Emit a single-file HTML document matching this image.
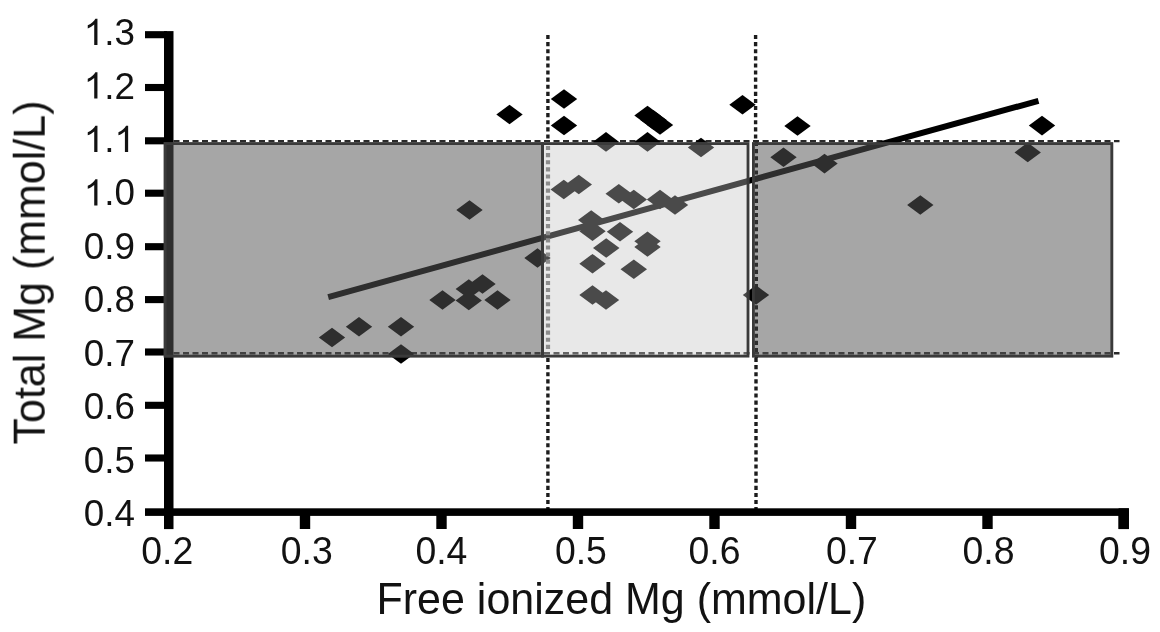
<!DOCTYPE html>
<html><head><meta charset="utf-8"><title>Chart</title>
<style>
html,body{margin:0;padding:0;background:#fff;}
body{width:1160px;height:632px;overflow:hidden;position:relative;font-family:"Liberation Sans",sans-serif;}
svg{position:absolute;left:0;top:0;display:block;filter:blur(0.45px);}
text{font-family:"Liberation Sans",sans-serif;fill:#111;}
.tick{font-size:37.4px;}
.lab{font-size:43px;}
</style></head><body>
<svg width="1160" height="632" viewBox="0 0 1160 632">
<rect width="1160" height="632" fill="#fff"/>
<!-- dotted verticals -->
<g stroke="#1c1c1c" stroke-width="3.4" stroke-dasharray="4.1 3" fill="none">
<line x1="547.9" y1="35" x2="547.9" y2="142"/>
<line x1="547.9" y1="358" x2="547.9" y2="510"/>
<line x1="755.6" y1="35" x2="755.6" y2="142"/>
<line x1="756.3" y1="142" x2="756.3" y2="358" stroke="#000"/>
<line x1="756" y1="358" x2="756" y2="510"/>
</g>
<!-- dashed horizontals -->
<g stroke="#2a2a2a" stroke-width="2.4" stroke-dasharray="6 3.5" fill="none">
<line x1="173.5" y1="141.1" x2="1119.5" y2="141.1"/>
<line x1="173.5" y1="353.3" x2="1119.5" y2="353.3"/>
</g>
<!-- regression line -->
<line x1="328.2" y1="297.15" x2="1038.5" y2="100.8" stroke="#000" stroke-width="6"/>
<!-- diamonds -->
<g fill="#000">
<path d="M496.3 114.5L509.5 104.7L522.7 114.5L509.5 124.3Z"/>
<path d="M550.8 99.0L564.0 89.2L577.2 99.0L564.0 108.8Z"/>
<path d="M550.8 125.5L564.0 115.7L577.2 125.5L564.0 135.3Z"/>
<path d="M592.8 141.9L606.0 132.1L619.2 141.9L606.0 151.7Z"/>
<path d="M634.3 141.9L647.5 132.1L660.7 141.9L647.5 151.7Z"/>
<path d="M634.3 115.5L647.5 105.7L660.7 115.5L647.5 125.3Z"/>
<path d="M640.3 120.0L653.5 110.2L666.7 120.0L653.5 129.8Z"/>
<path d="M646.8 125.0L660.0 115.2L673.2 125.0L660.0 134.8Z"/>
<path d="M729.3 104.7L742.5 94.9L755.7 104.7L742.5 114.5Z"/>
<path d="M784.3 126.0L797.5 116.2L810.7 126.0L797.5 135.8Z"/>
<path d="M1028.8 125.6L1042.0 115.8L1055.2 125.6L1042.0 135.4Z"/>
<path d="M687.8 147.5L701.0 137.7L714.2 147.5L701.0 157.3Z"/>
<path d="M550.5 189.5L563.8 179.7L577.0 189.5L563.8 199.3Z"/>
<path d="M565.5 184.5L578.8 174.7L592.0 184.5L578.8 194.3Z"/>
<path d="M605.5 193.8L618.8 183.9L632.0 193.8L618.8 203.6Z"/>
<path d="M620.5 199.5L633.8 189.7L647.0 199.5L633.8 209.3Z"/>
<path d="M646.8 199.5L660.0 189.7L673.2 199.5L660.0 209.3Z"/>
<path d="M661.8 205.0L675.0 195.2L688.2 205.0L675.0 214.8Z"/>
<path d="M578.0 220.0L591.2 210.2L604.5 220.0L591.2 229.8Z"/>
<path d="M579.3 231.2L592.5 221.4L605.7 231.2L592.5 241.1Z"/>
<path d="M606.8 231.8L620.0 221.9L633.2 231.8L620.0 241.6Z"/>
<path d="M634.3 241.2L647.5 231.4L660.7 241.2L647.5 251.1Z"/>
<path d="M634.3 247.0L647.5 237.2L660.7 247.0L647.5 256.8Z"/>
<path d="M593.0 248.0L606.2 238.2L619.5 248.0L606.2 257.8Z"/>
<path d="M579.3 263.8L592.5 253.9L605.7 263.8L592.5 273.6Z"/>
<path d="M620.5 269.2L633.8 259.4L647.0 269.2L633.8 279.1Z"/>
<path d="M579.3 295.0L592.5 285.2L605.7 295.0L592.5 304.8Z"/>
<path d="M592.8 300.0L606.0 290.2L619.2 300.0L606.0 309.8Z"/>
<path d="M318.8 337.5L332.0 327.7L345.2 337.5L332.0 347.3Z"/>
<path d="M345.8 326.8L359.0 316.9L372.2 326.8L359.0 336.6Z"/>
<path d="M387.8 326.8L401.0 316.9L414.2 326.8L401.0 336.6Z"/>
<path d="M387.8 354.0L401.0 344.2L414.2 354.0L401.0 363.8Z"/>
<path d="M429.3 300.0L442.5 290.2L455.7 300.0L442.5 309.8Z"/>
<path d="M455.6 289.0L468.8 279.2L481.9 289.0L468.8 298.8Z"/>
<path d="M455.6 300.5L468.8 290.7L481.9 300.5L468.8 310.3Z"/>
<path d="M469.3 284.0L482.5 274.2L495.7 284.0L482.5 293.8Z"/>
<path d="M484.3 300.0L497.5 290.2L510.7 300.0L497.5 309.8Z"/>
<path d="M524.3 258.0L537.5 248.2L550.7 258.0L537.5 267.8Z"/>
<path d="M456.3 210.0L469.5 200.2L482.7 210.0L469.5 219.8Z"/>
<path d="M742.8 295.0L756.0 285.2L769.2 295.0L756.0 304.8Z"/>
<path d="M770.3 157.3L783.5 147.5L796.7 157.3L783.5 167.1Z"/>
<path d="M811.3 163.6L824.5 153.8L837.7 163.6L824.5 173.4Z"/>
<path d="M907.1 205.0L920.3 195.2L933.5 205.0L920.3 214.8Z"/>
<path d="M1014.5 152.4L1027.7 142.6L1040.9 152.4L1027.7 162.2Z"/>
</g>
<!-- axes -->
<g fill="#000">
<rect x="164" y="31.1" width="9.5" height="498"/>
<rect x="145" y="508.3" width="983.9" height="7.6"/>
<rect x="1118.6" y="508.3" width="10.3" height="20.8"/>
<rect x="145" y="31.15" width="22" height="7.1"/>
<rect x="145" y="83.95" width="22" height="7.1"/>
<rect x="145" y="137.25" width="22" height="7.1"/>
<rect x="145" y="189.65" width="22" height="7.1"/>
<rect x="145" y="243.15" width="22" height="7.1"/>
<rect x="145" y="296.05" width="22" height="7.1"/>
<rect x="145" y="348.45" width="22" height="7.1"/>
<rect x="145" y="401.75" width="22" height="7.1"/>
<rect x="145" y="454.45" width="22" height="7.1"/>
<rect x="299.80" y="511" width="10.4" height="18"/>
<rect x="436.30" y="511" width="10.4" height="18"/>
<rect x="572.80" y="511" width="10.4" height="18"/>
<rect x="709.30" y="511" width="10.4" height="18"/>
<rect x="845.80" y="511" width="10.4" height="18"/>
<rect x="982.30" y="511" width="10.4" height="18"/>
<rect x="1118.50" y="511" width="10.4" height="18"/>
</g>
<!-- overlay boxes -->
<rect x="163.7" y="142.2" width="380.3" height="215.3" fill="rgba(87,87,87,0.53)"/>
<rect x="752" y="142.2" width="361.2" height="215.3" fill="rgba(87,87,87,0.53)"/>
<rect x="544" y="142.2" width="205.4" height="215.3" fill="rgba(195,195,195,0.38)"/>
<g fill="none" stroke="#3a3a3a" stroke-width="2.8">
<rect x="165.1" y="143.6" width="377.4" height="212.5"/>
<rect x="542.5" y="143.6" width="205.5" height="212.5"/>
<rect x="753.4" y="143.6" width="358.4" height="212.5"/>
</g>
<line x1="548" y1="146" x2="548" y2="352" stroke="#8c8c8c" stroke-width="4.2" stroke-dasharray="4.1 3" fill="none"/>
<g class="tick" opacity="0.995">
<text font-size="36.8" transform="translate(134.90 45.0) scale(1 1.02)" text-anchor="end">.3</text><path fill="#111" transform="translate(83.74 45.0) scale(0.01797 -0.01779)" d="M763 0H583V1147Q518 1085 412.5 1023Q307 961 223 930V1104Q374 1175 487 1276Q600 1377 647 1472H763Z"/>
<text font-size="36.8" transform="translate(134.90 98.5) scale(1 1.02)" text-anchor="end">.2</text><path fill="#111" transform="translate(83.74 98.5) scale(0.01797 -0.01779)" d="M763 0H583V1147Q518 1085 412.5 1023Q307 961 223 930V1104Q374 1175 487 1276Q600 1377 647 1472H763Z"/>
<path fill="#111" transform="translate(114.43 151.9) scale(0.01797 -0.01779)" d="M763 0H583V1147Q518 1085 412.5 1023Q307 961 223 930V1104Q374 1175 487 1276Q600 1377 647 1472H763Z"/><text font-size="36.8" transform="translate(114.43 151.9) scale(1 1.02)" text-anchor="end">.</text><path fill="#111" transform="translate(83.74 151.9) scale(0.01797 -0.01779)" d="M763 0H583V1147Q518 1085 412.5 1023Q307 961 223 930V1104Q374 1175 487 1276Q600 1377 647 1472H763Z"/>
<text font-size="36.8" transform="translate(134.90 205.4) scale(1 1.02)" text-anchor="end">.0</text><path fill="#111" transform="translate(83.74 205.4) scale(0.01797 -0.01779)" d="M763 0H583V1147Q518 1085 412.5 1023Q307 961 223 930V1104Q374 1175 487 1276Q600 1377 647 1472H763Z"/>
<text font-size="36.8" transform="translate(134.90 258.8) scale(1 1.02)" text-anchor="end">0.9</text>
<text font-size="36.8" transform="translate(134.90 312.2) scale(1 1.02)" text-anchor="end">0.8</text>
<text font-size="36.8" transform="translate(134.90 365.7) scale(1 1.02)" text-anchor="end">0.7</text>
<text font-size="36.8" transform="translate(134.90 419.2) scale(1 1.02)" text-anchor="end">0.6</text>
<text font-size="36.8" transform="translate(134.90 472.6) scale(1 1.02)" text-anchor="end">0.5</text>
<text font-size="36.8" transform="translate(134.90 526.0) scale(1 1.02)" text-anchor="end">0.4</text>
<text transform="translate(167.2 564.2) scale(1 1.015)" text-anchor="middle">0.2</text>
<text transform="translate(306.8 564.2) scale(1 1.015)" text-anchor="middle">0.3</text>
<text transform="translate(441.4 564.2) scale(1 1.015)" text-anchor="middle">0.4</text>
<text transform="translate(580.9 564.2) scale(1 1.015)" text-anchor="middle">0.5</text>
<text transform="translate(714.5 564.2) scale(1 1.015)" text-anchor="middle">0.6</text>
<text transform="translate(851.9 564.2) scale(1 1.015)" text-anchor="middle">0.7</text>
<text transform="translate(988.5 564.2) scale(1 1.015)" text-anchor="middle">0.8</text>
<text transform="translate(1125.0 564.2) scale(1 1.015)" text-anchor="middle">0.9</text>
</g>
<g opacity="0.995">
<text class="lab" transform="translate(376.5 614.2) scale(1 1.045)">Free ionized Mg (mmol/L)</text>
<text class="lab" transform="translate(44.5 444.5) rotate(-90) scale(1 1.045)">Total Mg (mmol/L)</text>
</g>
</svg>
</body></html>
